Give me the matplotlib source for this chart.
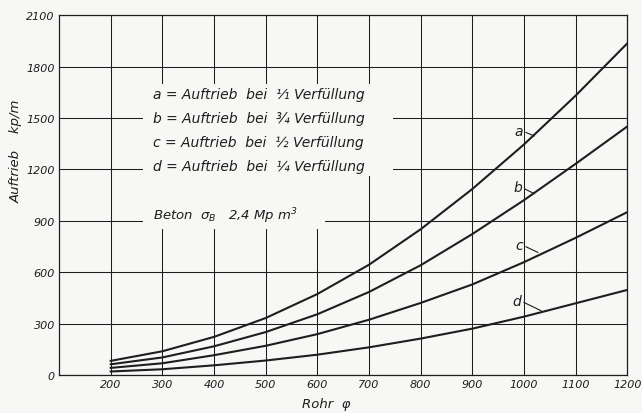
import matplotlib.pyplot as plt
from matplotlib.patches import Polygon

# pipe diameter (mm) and buoyancy (kp/m)
rohr = [200, 300, 400, 500, 600, 700, 800, 900, 1000, 1100, 1200]
kurve_a = [82, 138, 222, 332, 472, 643, 850, 1085, 1345, 1630, 1935]
kurve_b = [62, 102, 167, 250, 354, 484, 640, 822, 1020, 1232, 1450]
kurve_c = [41, 68, 115, 170, 238, 322, 420, 528, 658, 800, 950]
kurve_d = [20, 33, 56, 84, 118, 161, 212, 270, 340, 418, 496]

x_ticks = [200, 300, 400, 500, 600, 700, 800, 900, 1000, 1100, 1200]
y_ticks = [0, 300, 600, 900, 1200, 1500, 1800, 2100]

legende = [
    'a = Auftrieb  bei  ¹⁄₁ Verfüllung',
    'b = Auftrieb  bei  ¾ Verfüllung',
    'c = Auftrieb  bei  ½ Verfüllung',
    'd = Auftrieb  bei  ¼ Verfüllung',
]

ink = '#1e1e1e'
paper = '#f7f7f5'

plt.rcParams['font.family'] = 'DejaVu Sans'
plt.rcParams['font.style'] = 'italic'
plt.rcParams['mathtext.fontset'] = 'dejavusans'

fig = plt.figure(figsize=(6.42, 4.14), dpi=100, facecolor=paper)
ax = fig.add_axes([0.092, 0.092, 0.885, 0.869], facecolor=paper)

ax.set_xlim(100, 1200)
ax.set_ylim(0, 2100)
ax.set_xticks(x_ticks)
ax.set_yticks(y_ticks)
ax.tick_params(length=0, labelsize=8, colors=ink, pad=3)
for lab in ax.get_xticklabels() + ax.get_yticklabels():
    lab.set_style('italic')
ax.grid(True, color=ink, lw=0.75, zorder=1)
for s in ax.spines.values():
    s.set_color(ink)
    s.set_linewidth(0.9)

# blank area behind the legend text (grid erased there)
ax.add_patch(Polygon([(262, 1700), (746, 1700), (746, 1160), (615, 1160),
                      (615, 850), (262, 850)],
                     closed=True, facecolor=paper, edgecolor='none', zorder=2))

for y in [kurve_a, kurve_b, kurve_c, kurve_d]:
    ax.plot(rohr, y, color=ink, lw=1.5, zorder=3, solid_joinstyle='round')

# curve letters with small leader lines
marks = [('a', 990, 1425, 1020, 1395), ('b', 988, 1095, 1020, 1058),
         ('c', 990, 758, 1027, 715), ('d', 986, 433, 1033, 375)]
for t, tx, ty, lx, ly in marks:
    ax.text(tx, ty, t, fontsize=10, color=ink, ha='center', va='center', zorder=4)
    ax.plot([tx + 14, lx], [ty - 10, ly], color=ink, lw=0.8, zorder=4)

for i, line in enumerate(legende):
    ax.text(282, 1640 - i * 140, line, fontsize=10, color=ink,
            ha='left', va='center', zorder=4)

ax.text(282, 930, r'Beton  $\sigma_B$   2,4 Mp m$^3$', fontsize=9.5,
        color=ink, ha='left', va='center', zorder=4)

ax.text(617, -0.08, 'Rohr  φ', transform=ax.get_xaxis_transform(),
        fontsize=9.5, color=ink, ha='center', va='center')
ax.text(-0.075, 1310, 'Auftrieb    kp/m', transform=ax.get_yaxis_transform(),
        fontsize=9.5, color=ink, ha='center', va='center', rotation=90)

plt.savefig('out.png', dpi=100, facecolor=paper)
